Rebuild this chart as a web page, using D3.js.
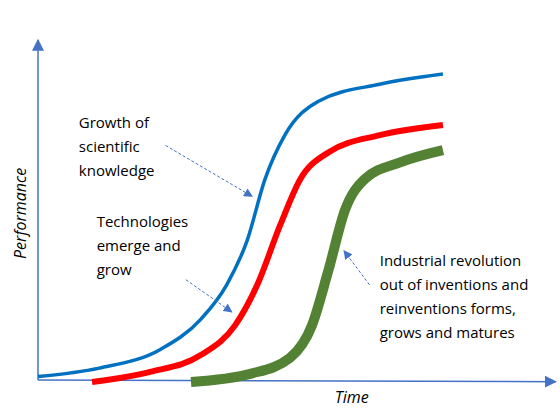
<!DOCTYPE html>
<html><head><meta charset="utf-8">
<script src="https://cdn.jsdelivr.net/npm/d3@7"></script>
<style>body{margin:0;background:#fff}</style></head>
<body><svg id="c" width="560" height="420"></svg>
<script>
const scienceX=[0,12,24,32,37,41,44.5,48.4,55,67,79.4];
const scienceY=[1,3.5,9,18,28,41,59,72,82,87,90];
const techX=[10.6,22,32,38.6,43,47.5,51.4,57,67,79.4];
const techY=[-0.6,2.4,7.4,16,28,45.6,59,67,72,75];
const industryX=[30,41.6,49.4,53.7,56.9,60.2,64,71,79.4];
const industryY=[-0.6,1.8,6.5,16,32,50,59,64,67.6];
const labels=[
 {lines:["Growth of","scientific","knowledge"],x:8,y:74},
 {lines:["Technologies","emerge and","grow"],x:11.5,y:45},
 {lines:["Industrial revolution","out of inventions and","reinventions forms,","grows and matures"],x:67,y:33.5}];
const arrows=[[25,69,42,54],[29,29.5,38,20],[65,28,60,38]];

const svg=d3.select("#c");
const x=d3.scaleLinear().domain([0,100]).range([38,548]);
const y=d3.scaleLinear().domain([0,100]).range([380,40]);
const defs=svg.append("defs");
function mk(id,c,s){defs.append("marker").attr("id",id).attr("viewBox","0 0 10 10").attr("refX",9).attr("refY",5)
 .attr("markerWidth",s).attr("markerHeight",s).attr("orient","auto").attr("markerUnits","userSpaceOnUse")
 .append("path").attr("d","M0,0L10,5L0,10z").attr("fill",c);}
mk("ax","#4472c4",12);mk("ar","#4472c4",9);
svg.append("line").attr("x1",x(0)).attr("y1",y(0)).attr("x2",x(0)).attr("y2",y(100)).attr("stroke","#4472c4").attr("stroke-width",1.5).attr("marker-end","url(#ax)");
svg.append("line").attr("x1",x(0)).attr("y1",y(0)).attr("x2",x(101.5)).attr("y2",y(-0.5)).attr("stroke","#4472c4").attr("stroke-width",1.5).attr("marker-end","url(#ax)");
const line=d3.line().x(d=>x(d[0])).y(d=>y(d[1])).curve(d3.curveMonotoneX);
function draw(xs,ys,c,w){svg.append("path").attr("d",line(xs.map((v,i)=>[v,ys[i]]))).attr("fill","none").attr("stroke",c).attr("stroke-width",w);}
draw(scienceX,scienceY,"#0070c0",3.5);
draw(techX,techY,"#ff0000",6);
draw(industryX,industryY,"#548235",10);
arrows.forEach(a=>svg.append("line").attr("x1",x(a[0])).attr("y1",y(a[1])).attr("x2",x(a[2])).attr("y2",y(a[3]))
 .attr("stroke","#4472c4").attr("stroke-width",1).attr("stroke-dasharray","3,2").attr("marker-end","url(#ar)"));
labels.forEach(l=>{const t=svg.append("text").attr("font-family","Open Sans, sans-serif").attr("font-size",15).attr("fill","#000");
 l.lines.forEach((s,i)=>t.append("tspan").attr("x",x(l.x)).attr("y",y(l.y)+i*24).text(s));});
svg.append("text").attr("transform",`translate(26,${y(49)}) rotate(-90)`).attr("text-anchor","middle").attr("font-family","Open Sans, sans-serif").attr("font-style","italic").attr("font-size",16).text("Performance");
svg.append("text").attr("x",x(61.5)).attr("y",403).attr("text-anchor","middle").attr("font-family","Open Sans, sans-serif").attr("font-style","italic").attr("font-size",16).text("Time");
</script></body></html>
